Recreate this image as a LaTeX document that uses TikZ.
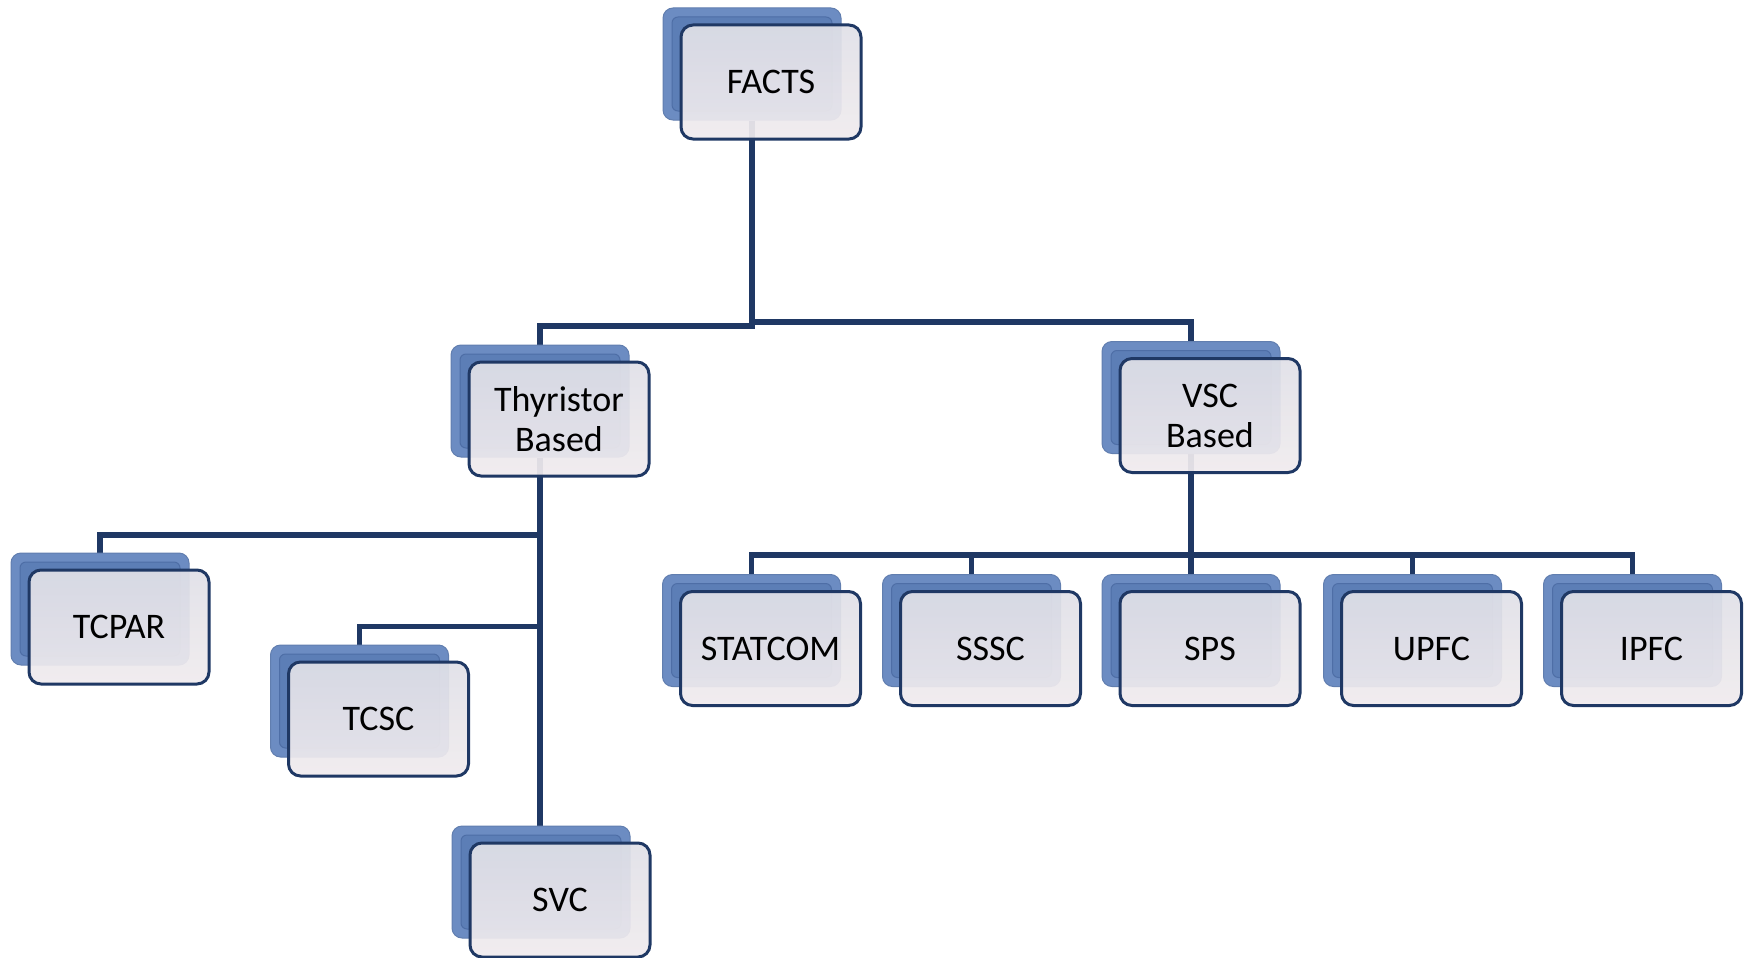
\documentclass[tikz,border=0pt]{standalone}
\usepackage{fontspec}
\setmainfont{Carlito}
\usetikzlibrary{backgrounds}
\definecolor{navy}{RGB}{31,56,100}
\definecolor{bbrim}{RGB}{108,140,194}
\definecolor{bbface}{RGB}{92,126,182}
\definecolor{bbdark}{RGB}{78,110,166}
\definecolor{frontA}{RGB}{224,224,231}
\definecolor{frontB}{RGB}{240,235,238}
\tikzset{
  backbox/.style={rectangle, rounded corners=10pt, minimum width=178pt, minimum height=112pt, inner sep=0pt, fill=bbrim, draw=bbrim!90!black, line width=1pt,
    path picture={\draw[draw=bbdark, fill=bbface, line width=1pt, rounded corners=6pt]
      ([shift={(9pt,9pt)}]path picture bounding box.south west) rectangle ([shift={(-9pt,-9pt)}]path picture bounding box.north east);}},
  frontbox/.style={rectangle, rounded corners=12pt, minimum width=180pt, minimum height=114pt, inner sep=0pt, top color=frontA, bottom color=frontB, fill opacity=0.93, draw=navy, draw opacity=1, line width=3pt, text opacity=1, align=center, font=\fontsize{36}{40}\selectfont, text=black},
  link/.style={draw=navy, line width=5.5pt}
}
\newcommand\pairbox[4]{%
  \node[backbox] (#1B) at (#2-19,#3-18) {};
  \node[frontbox] (#1) at (#2,#3) {#4};
}
\begin{document}
\begin{tikzpicture}[x=1pt,y=-1pt]
\useasboundingbox (0,0) rectangle (1748,958);
\pairbox{facts}{771}{82}{FACTS}
\pairbox{thy}{559}{419}{Thyristor\\Based}
\pairbox{vsc}{1210}{415.5}{VSC\\Based}
\pairbox{tcpar}{119}{627}{TCPAR}
\pairbox{tcsc}{378.5}{719}{TCSC}
\pairbox{svc}{560}{900}{SVC}
\pairbox{statcom}{770.5}{648.5}{STATCOM}
\pairbox{sssc}{990.5}{648.5}{SSSC}
\pairbox{sps}{1210}{648.5}{SPS}
\pairbox{upfc}{1431.5}{648.5}{UPFC}
\pairbox{ipfc}{1651.5}{648.5}{IPFC}
\coordinate (busL) at (0,326);
\coordinate (busR) at (0,322);
\coordinate (busT1) at (0,535);
\coordinate (busT2) at (0,626.5);
\coordinate (busV) at (0,555);
\begin{scope}[on background layer]
  \draw[link] (factsB.south) -- (factsB.south |- busL) -| (thyB.north);
  \draw[link] (factsB.south |- busR) -| (vscB.north);
  \draw[link] (factsB.south |- busL) -- (factsB.south |- busR);
  \draw[link] (thyB.south) -- (thyB.south |- svcB.north);
  \draw[link] (thyB.south |- busT1) -| (tcparB.north);
  \draw[link] (thyB.south |- busT2) -| (tcscB.north);
  \draw[link] (vscB.south) -- (vscB.south |- busV);
  \draw[link] (statcomB.north) |- (ipfcB.north |- busV) -- (ipfcB.north);
  \draw[link] (ssscB.north) -- (ssscB.north |- busV);
  \draw[link] (spsB.north) -- (spsB.north |- busV);
  \draw[link] (upfcB.north) -- (upfcB.north |- busV);
\end{scope}
\end{tikzpicture}
\end{document}
